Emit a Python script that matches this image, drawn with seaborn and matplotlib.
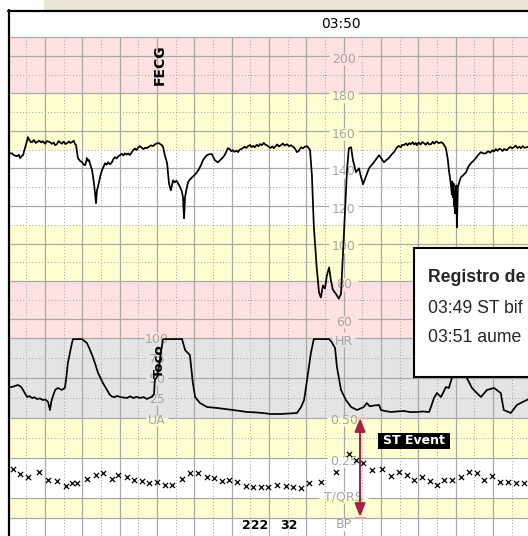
import matplotlib
matplotlib.use("Agg")
import matplotlib.pyplot as plt
import matplotlib.transforms as mtransforms
from matplotlib.lines import Line2D
from matplotlib.patches import Rectangle
import pandas as pd
import seaborn as sns

# ---------------------------------------------------------------------------
# Traces, time in minutes relative to 03:50
# ---------------------------------------------------------------------------
fhr_minutes = [
    -8.93, -8.89, -8.83, -8.75, -8.70, -8.67, -8.62, -8.59, -8.54, -8.50,
    -8.46, -8.42, -8.38, -8.35, -8.30, -8.25, -8.22, -8.16, -8.10, -8.06,
    -8.00, -7.95, -7.87, -7.82, -7.77, -7.73, -7.68, -7.64, -7.60, -7.55,
    -7.50, -7.45, -7.41, -7.36, -7.32, -7.28, -7.23, -7.20, -7.17, -7.12,
    -7.06, -7.01, -6.96, -6.93, -6.90, -6.88, -6.84, -6.82, -6.78, -6.74,
    -6.69, -6.66, -6.635, -6.61, -6.58, -6.555, -6.52, -6.475, -6.43, -6.39,
    -6.35, -6.31, -6.26, -6.21, -6.17, -6.13, -6.08, -6.04, -5.99, -5.94,
    -5.90, -5.86, -5.81, -5.77, -5.73, -5.68, -5.64, -5.59, -5.55, -5.50,
    -5.46, -5.41, -5.36, -5.32, -5.27, -5.22, -5.16, -5.11, -5.06, -5.00,
    -4.95, -4.91, -4.87, -4.84, -4.79, -4.73, -4.70, -4.68, -4.65, -4.63,
    -4.60, -4.57, -4.53, -4.48, -4.44, -4.39, -4.35, -4.33, -4.305, -4.29,
    -4.278, -4.265, -4.251, -4.21, -4.17, -4.12, -4.06, -4.00, -3.93, -3.89,
    -3.85, -3.81, -3.77, -3.72, -3.66, -3.60, -3.53, -3.49, -3.45, -3.41,
    -3.37, -3.32, -3.28, -3.23, -3.17, -3.13, -3.10, -3.05, -3.01, -2.97,
    -2.92, -2.87, -2.83, -2.79, -2.74, -2.70, -2.65, -2.61, -2.56, -2.51,
    -2.46, -2.42, -2.38, -2.33, -2.28, -2.24, -2.19, -2.14, -2.10, -2.06,
    -2.01, -1.96, -1.91, -1.87, -1.82, -1.78, -1.73, -1.68, -1.63, -1.58,
    -1.52, -1.46, -1.41, -1.36, -1.31, -1.25, -1.20, -1.14, -1.09, -1.04,
    -0.98, -0.94, -0.90, -0.85, -0.80, -0.72, -0.66, -0.61, -0.555, -0.50,
    -0.45, -0.39, -0.34, -0.29, -0.21, -0.13, -0.07, -0.02, 0.035, 0.09,
    0.14, 0.20, 0.25, 0.33, 0.41, 0.46, 0.52, 0.60, 0.68, 0.81,
    0.95, 1.02, 1.08, 1.15, 1.21, 1.28, 1.35, 1.43, 1.48, 1.53,
    1.57, 1.62, 1.67, 1.71, 1.76, 1.80, 1.85, 1.89, 1.93, 1.96,
    2.01, 2.06, 2.11, 2.15, 2.20, 2.25, 2.29, 2.34, 2.39, 2.43,
    2.48, 2.55, 2.62, 2.68, 2.74, 2.79, 2.82, 2.87, 2.90, 2.91,
    2.93, 2.945, 2.955, 2.97, 2.98, 2.995, 3.01, 3.02, 3.035, 3.05,
    3.06, 3.09, 3.14, 3.21, 3.28, 3.34, 3.41, 3.48, 3.54, 3.61,
    3.68, 3.74, 3.81, 3.87, 3.93, 3.98, 4.03, 4.08, 4.12, 4.17,
    4.21, 4.26, 4.30, 4.37, 4.42, 4.47, 4.51, 4.56, 4.61, 4.66,
    4.71, 4.75, 4.80, 4.85, 4.91, 4.95,
]
fhr_bpm = [
    148.0, 148.1, 147.0, 146.5, 147.3, 145.5, 146.8, 147.1, 150.8, 153.5,
    156.7, 155.0, 154.0, 154.0, 155.2, 153.6, 154.0, 154.8, 153.9, 154.5,
    153.2, 154.6, 154.0, 153.1, 153.8, 152.4, 153.0, 154.6, 154.0, 153.2,
    154.3, 153.0, 153.5, 154.4, 153.6, 154.0, 154.8, 153.0, 152.4, 145.5,
    144.0, 143.3, 142.0, 141.7, 143.5, 145.5, 144.0, 144.4, 141.5, 139.1,
    132.1, 126.0, 121.5, 128.4, 130.5, 132.7, 136.0, 139.1, 141.0, 142.8,
    142.0, 143.3, 142.2, 143.3, 145.0, 146.0, 145.3, 146.5, 147.1, 147.8,
    146.9, 148.1, 147.4, 148.0, 147.1, 148.6, 149.7, 150.6, 149.8, 151.2,
    151.9, 151.0, 150.3, 151.1, 150.8, 151.6, 152.3, 151.9, 152.8, 153.4,
    153.5, 152.9, 152.4, 151.5, 147.0, 142.8, 136.0, 132.1, 129.5, 128.4,
    131.0, 133.7, 132.6, 133.5, 132.1, 130.4, 128.6, 127.3, 124.7, 118.0,
    113.5, 118.0, 124.7, 129.0, 132.7, 134.1, 135.3, 136.4, 138.0, 139.2,
    140.7, 142.4, 144.4, 145.8, 147.1, 147.6, 147.6, 146.0, 144.4, 143.8,
    143.3, 144.2, 145.0, 146.0, 147.8, 149.6, 150.8, 150.2, 149.2, 149.7,
    148.9, 149.5, 148.7, 149.9, 150.4, 150.8, 151.6, 150.9, 151.9, 152.5,
    151.4, 152.0, 151.3, 152.6, 151.8, 153.0, 152.4, 153.6, 152.7, 152.4,
    151.6, 150.9, 151.8, 150.8, 151.9, 152.8, 151.7, 152.4, 153.3, 152.2,
    152.9, 151.9, 152.4, 151.6, 150.8, 148.7, 149.4, 151.3, 150.7, 151.6,
    151.9, 151.0, 149.7, 136.3, 109.7, 86.8, 74.0, 71.3, 77.7, 76.1,
    83.0, 87.3, 80.3, 75.5, 73.3, 70.7, 73.3, 93.6, 116.0, 139.1,
    150.8, 151.3, 144.4, 138.0, 140.1, 135.9, 131.6, 135.9, 140.1, 143.3,
    147.1, 145.0, 143.3, 144.6, 145.5, 147.3, 148.7, 151.3, 152.0, 151.2,
    152.6, 152.4, 153.4, 152.3, 153.5, 152.9, 154.0, 152.8, 153.6, 152.4,
    153.8, 152.7, 154.1, 153.5, 152.6, 153.9, 152.8, 152.9, 154.2, 153.2,
    154.4, 153.5, 154.0, 152.9, 150.8, 145.0, 139.1, 132.1, 126.0, 133.0,
    124.7, 132.0, 120.0, 128.0, 116.1, 126.0, 124.7, 131.0, 108.7, 122.0,
    130.0, 132.1, 135.3, 136.5, 138.0, 140.9, 142.8, 144.1, 145.5, 147.3,
    148.7, 148.0, 148.1, 149.2, 148.4, 149.6, 149.1, 150.3, 149.4, 150.5,
    150.2, 149.3, 150.4, 149.7, 150.8, 151.5, 150.7, 151.3, 152.2, 150.9,
    151.6, 150.8, 151.9, 151.0, 151.3, 151.6,
]

toco_minutes = [
    -8.94, -8.89, -8.80, -8.73, -8.66, -8.62, -8.55, -8.48, -8.42, -8.35,
    -8.28, -8.22, -8.14, -8.06, -7.99, -7.92, -7.87, -7.83, -7.78, -7.73,
    -7.69, -7.65, -7.60, -7.55, -7.50, -7.47, -7.43, -7.39, -7.33, -7.28,
    -7.25, -7.01, -6.93, -6.88, -6.80, -6.72, -6.65, -6.58, -6.45, -6.36,
    -6.26, -6.20, -6.13, -6.06, -5.99, -5.90, -5.81, -5.72, -5.64, -5.55,
    -5.46, -5.36, -5.27, -5.20, -5.14, -5.08, -5.06, -5.00, -4.95, -4.90,
    -4.84, -4.33, -4.25, -4.12, -4.04, -3.98, -3.85, -3.66, -3.50, -3.39,
    -3.20, -2.97, -2.78, -2.59, -2.40, -2.16, -1.97, -1.68, -1.45, -1.25,
    -1.14, -1.06, -0.98, -0.88, -0.80, -0.39, -0.33, -0.23, -0.18, -0.07,
    0.06, 0.20, 0.36, 0.45, 0.54, 0.62, 0.70, 0.81, 0.95, 1.00,
    1.12, 1.27, 1.44, 1.62, 1.79, 1.96, 2.12, 2.29, 2.34, 2.42,
    2.50, 2.61, 2.74, 2.82, 2.90, 3.04, 3.17, 3.30, 3.44, 3.56,
    3.68, 3.84, 4.03, 4.21, 4.29, 4.48, 4.64, 4.78, 4.91, 4.95,
]
toco_values = [
    38.0, 38.1, 39.5, 40.6, 39.0, 36.9, 31.0, 25.6, 26.8, 24.4,
    25.2, 23.1, 23.8, 21.9, 22.6, 19.4, 9.4, 20.5, 28.0, 34.4,
    36.0, 36.9, 35.5, 34.4, 36.2, 36.9, 50.0, 68.1, 82.0, 93.1,
    98.0, 98.0, 95.0, 93.1, 85.0, 75.6, 66.0, 55.6, 43.1, 36.0,
    28.1, 26.0, 25.6, 27.0, 25.6, 25.0, 24.4, 26.5, 24.4, 25.8,
    24.4, 25.5, 23.1, 24.8, 25.6, 29.4, 46.9, 50.6, 63.1, 80.0,
    98.0, 98.0, 84.4, 78.1, 43.1, 25.6, 18.1, 13.1, 12.4, 11.9,
    10.8, 9.4, 8.2, 6.9, 6.5, 5.6, 4.4, 4.4, 5.0, 5.6,
    13.1, 21.9, 46.9, 80.0, 98.0, 98.0, 95.0, 86.9, 63.1, 34.4,
    21.9, 13.1, 9.4, 11.2, 13.1, 18.1, 14.0, 15.0, 15.6, 9.4,
    8.0, 6.9, 7.6, 8.1, 6.8, 6.9, 7.5, 6.9, 13.1, 24.4,
    30.6, 25.6, 38.1, 36.9, 49.4, 65.6, 59.4, 49.4, 36.9, 31.0,
    25.6, 34.4, 36.9, 30.6, 9.4, 5.6, 15.6, 19.0, 21.9, 23.0,
]

st_minutes = [
    -8.86, -8.67, -8.46, -8.16, -7.92, -7.68, -7.44, -7.28, -7.14, -6.88,
    -6.64, -6.45, -6.21, -6.05, -5.81, -5.62, -5.40, -5.22, -5.00, -4.79,
    -4.60, -4.33, -4.12, -3.90, -3.66, -3.47, -3.26, -3.07, -2.86, -2.62,
    -2.43, -2.22, -2.03, -1.79, -1.55, -1.36, -1.14, -0.93, -0.61, -0.21,
    0.14, 0.33, 0.52, 0.76, 1.03, 1.27, 1.48, 1.70, 1.88, 2.10,
    2.31, 2.50, 2.69, 2.90, 3.14, 3.36, 3.57, 3.76, 3.97, 4.19,
    4.40, 4.62, 4.83,
]
st_tqrs = [
    0.178, 0.147, 0.128, 0.159, 0.109, 0.103, 0.072, 0.091, 0.091, 0.116,
    0.141, 0.153, 0.116, 0.141, 0.128, 0.109, 0.103, 0.091, 0.097, 0.078,
    0.078, 0.116, 0.153, 0.153, 0.128, 0.122, 0.103, 0.109, 0.097, 0.072,
    0.066, 0.066, 0.066, 0.078, 0.072, 0.066, 0.059, 0.091, 0.097, 0.159,
    0.272, 0.234, 0.216, 0.172, 0.178, 0.134, 0.159, 0.141, 0.109, 0.128,
    0.103, 0.078, 0.109, 0.109, 0.128, 0.159, 0.153, 0.109, 0.134, 0.097,
    0.097, 0.091, 0.091,
]

hr_levels = [200, 180, 160, 140, 120, 100, 80, 60]
toco_levels = [100, 75, 50, 25]
st_levels = [0.50, 0.25]
clock_label = "03:50"
# the event log window runs past the right edge of the view
event_log_title = "Registro de"
event_log_lines = ["03:49 ST bif", "03:51 aume"]
st_event_minute = 0.44
bp_minutes = [-2.37, -1.48]
bp_values = ["222", "32"]

# ---------------------------------------------------------------------------
sns.set_theme(style="white")
plt.rcParams["font.family"] = ["DejaVu Sans"]

PINK, YELLOW, GREY_BAND = "#FFE1E1", "#FFFFD2", "#E4E4E4"
GRID = "#A8A8A8"
LABEL = "#A4A4A4"
EVENT_RED = "#A8213F"

W, H = 528, 536
fig = plt.figure(figsize=(W / 100, H / 100), dpi=100, facecolor="white")


def px_box(x0, y0, x1, y1):
    return [x0 / W, 1 - y1 / H, (x1 - x0) / W, (y1 - y0) / H]


T_MIN, T_MAX = -8.94, 4.94

ax_hr = fig.add_axes(px_box(10, 37, 528, 337.5))
ax_toco = fig.add_axes(px_box(10, 337.5, 528, 417.5))
ax_st = fig.add_axes(px_box(10, 417.5, 528, 517.5))
ax_bp = fig.add_axes(px_box(10, 517.5, 528, 536))
panels = [(ax_hr, 50, 210), (ax_toco, 0, 100), (ax_st, -0.125, 0.5), (ax_bp, 0, 1)]

# coloured bands
for lo, hi, c in [(180, 210, PINK), (150, 180, YELLOW), (110, 150, "white"),
                  (80, 110, YELLOW), (50, 80, PINK)]:
    ax_hr.axhspan(lo, hi, color=c, lw=0, zorder=0)
ax_toco.axhspan(0, 100, color=GREY_BAND, lw=0, zorder=0)
for lo, hi, c in [(0.25, 0.5, YELLOW), (0, 0.25, "white"), (-0.125, 0, YELLOW)]:
    ax_st.axhspan(lo, hi, color=c, lw=0, zorder=0)

# chart-paper grid, broken where the scale labels sit
SOLID = dict(colors=GRID, linewidth=0.9, zorder=1, clip_on=False)
DOTTED = dict(colors=GRID, linewidth=0.75, linestyles=[(0, (1, 2))], zorder=1, clip_on=False)


def split(lo, hi, gaps):
    pieces, start = [], lo
    for g0, g1 in sorted(gaps):
        if g0 > start:
            pieces.append((start, min(g0, hi)))
        start = max(start, g1)
    if start < hi:
        pieces.append((start, hi))
    return pieces


def vgrid(ax, lo, hi, gaps_by_minute):
    for k in range(-8, 5):
        for a, b in split(lo, hi, gaps_by_minute.get(k, [])):
            ax.vlines(k, a, b, **SOLID)
    for k in range(-9, 5):
        ax.vlines(k + 0.5, lo, hi, **DOTTED)


def hgrid(ax, y, style, gaps=()):
    for a, b in split(T_MIN, T_MAX, gaps):
        ax.hlines(y, a, b, **style)


vgrid(ax_hr, 50, 210, {0: [(L - 1.8 - 3.3, L - 1.8 + 3.3) for L in hr_levels] + [(49, 53)],
                       -5: [(49, 53)]})
for L in range(60, 201, 20):
    hgrid(ax_hr, L, SOLID, [(-0.38, 0.38)])
for L in range(70, 200, 20):
    hgrid(ax_hr, L, DOTTED)
hgrid(ax_hr, 210, SOLID)

vgrid(ax_toco, 0, 100, {-5: [(L - 2 - 7, L - 2 + 7) for L in toco_levels] + [(-5, 3)],
                        0: [(88, 102), (-5, 3)]})
hgrid(ax_toco, 100, SOLID, [(-5.35, -4.65), (-0.3, 0.3)])
hgrid(ax_toco, 75, DOTTED, [(-5.3, -4.7)])
hgrid(ax_toco, 50, SOLID, [(-5.3, -4.7)])
hgrid(ax_toco, 25, DOTTED, [(-5.3, -4.7)])

vgrid(ax_st, -0.125, 0.5, {-5: [(0.449, 0.6)],
                           0: [(0.449, 0.6), (0.193, 0.263), (-0.035, 0.035)]})
hgrid(ax_st, 0.5, SOLID, [(-5.3, -4.7), (-0.45, 0.45)])
hgrid(ax_st, 0.375, DOTTED)
hgrid(ax_st, 0.25, SOLID, [(-0.45, 0.45)])
hgrid(ax_st, 0.0, SOLID, [(-0.65, 0.65)])
hgrid(ax_st, -0.125, SOLID)

vgrid(ax_bp, 0, 1, {0: [(0.28, 1.1)]})


# scale labels
def column_label(ax, t, y, text):
    ax.text(t, y, text, ha="center", va="center", color=LABEL, fontsize=9,
            zorder=2, clip_on=False)


for L in hr_levels:
    column_label(ax_hr, 0, L - 1.8, str(L))
column_label(ax_toco, 0, 95, "HR")
for L in toco_levels:
    column_label(ax_toco, -5, L - 2, str(L))
column_label(ax_st, -5, 0.484, "UA")
column_label(ax_st, 0, 0.484, f"{st_levels[0]:.2f}")
column_label(ax_st, 0, 0.228, f"{st_levels[1]:.2f}")
column_label(ax_st, 0, 0.0, "T/QRS")
column_label(ax_bp, 0, 0.6, "BP")

ax_hr.text(-4.93, 195, "FECG", rotation=90, ha="center", va="center",
           fontsize=10, fontweight="bold", color="black", zorder=5)
ax_toco.text(-4.93, 71, "Toco", rotation=90, ha="center", va="center",
             fontsize=9.5, fontweight="bold", color="black", zorder=5)

# traces
fhr = pd.DataFrame({"minute": fhr_minutes, "bpm": fhr_bpm})
toco = pd.DataFrame({"minute": toco_minutes, "ua": toco_values})
st = pd.DataFrame({"minute": st_minutes, "ratio": st_tqrs})

sns.lineplot(data=fhr, x="minute", y="bpm", ax=ax_hr, color="black",
             linewidth=1.25, sort=False, estimator=None, zorder=3)
sns.lineplot(data=toco, x="minute", y="ua", ax=ax_toco, color="black",
             linewidth=1.25, sort=False, estimator=None, zorder=3)
sns.scatterplot(data=st, x="minute", y="ratio", ax=ax_st, marker="x",
                color="black", s=14, linewidth=0.9, zorder=3)

# ST event marker
ax_st.annotate("", xy=(st_event_minute, 0.497), xytext=(st_event_minute, -0.122),
               arrowprops=dict(arrowstyle="<|-|>,head_length=0.8,head_width=0.32",
                               color=EVENT_RED, lw=1.5, shrinkA=0, shrinkB=0,
                               mutation_scale=10),
               zorder=6, annotation_clip=False)
ax_st.hlines([0.497, -0.122], st_event_minute - 0.16, st_event_minute + 0.16,
             colors="#F2A8B2", linewidth=1, zorder=5, clip_on=False)

for t, v in zip(bp_minutes, bp_values):
    ax_bp.text(t, 0.55, v, ha="center", va="center", fontsize=9,
               fontweight="bold", color="black", zorder=4, clip_on=False)

for ax, lo, hi in panels:
    ax.set_xlim(T_MIN, T_MAX)
    ax.set_ylim(lo, hi)
    ax.set_axis_off()

# window chrome
fig.add_artist(Rectangle((44 / W, 1 - 10 / H), (W - 44) / W, 10 / H,
                         transform=fig.transFigure, facecolor="#ECE5D6",
                         edgecolor="none", zorder=0))
fig.add_artist(Line2D([8 / W, 1], [1 - 11 / H, 1 - 11 / H], color="black",
                      lw=1.6, transform=fig.transFigure, zorder=9))
fig.add_artist(Line2D([9.3 / W, 9.3 / W], [0, 1 - 10 / H], color="black",
                      lw=1.6, transform=fig.transFigure, zorder=9))

clock_tf = mtransforms.blended_transform_factory(ax_hr.transData, fig.transFigure)
fig.text(-0.07, 1 - 24.5 / H, clock_label, transform=clock_tf, ha="center",
         va="center", fontsize=10, color="black")

# "ST Event" tag
fig.add_artist(Rectangle((378 / W, 1 - 449 / H), 72 / W, 16 / H,
                         transform=fig.transFigure, facecolor="black",
                         edgecolor="none", zorder=7))
fig.text(414 / W, 1 - 441 / H, "ST Event", ha="center", va="center",
         fontsize=9, fontweight="bold", color="white", zorder=8)

# event log panel
fig.add_artist(Rectangle((414 / W, 1 - 377 / H), 130 / W, 129 / H,
                         transform=fig.transFigure, facecolor="white",
                         edgecolor="black", linewidth=1.5, zorder=8))
fig.text(428.5 / W, 1 - 281.5 / H, event_log_title, family="Liberation Sans",
         fontweight="bold", fontsize=12.7, va="baseline", zorder=9)
fig.text(428.5 / W, 1 - 313 / H, event_log_lines[0], family="Liberation Sans",
         fontsize=12.7, va="baseline", zorder=9)
fig.text(428.5 / W, 1 - 342 / H, event_log_lines[1], family="Liberation Sans",
         fontsize=12.7, va="baseline", zorder=9)

fig.savefig("out.png", dpi=100, facecolor="white")
